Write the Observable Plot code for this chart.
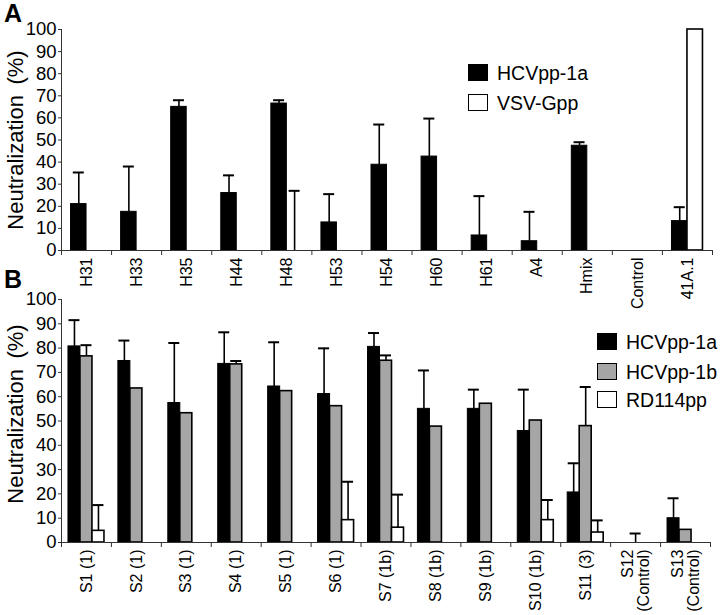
<!DOCTYPE html>
<html><head><meta charset="utf-8">
<script src="https://cdn.jsdelivr.net/npm/d3@7"></script>
<script src="https://cdn.jsdelivr.net/npm/@observablehq/plot@0.6"></script>
<style>
body{margin:0;background:#fff;font-family:"Liberation Sans",Arial,Helvetica,sans-serif;}
#wrap{position:relative;width:720px;height:615px;overflow:hidden;background:#fff;}
.plot{position:absolute;left:0;}
.letter{position:absolute;font-weight:bold;font-size:25px;line-height:25px;}
.legend{position:absolute;font-size:19.5px;}
.row{position:absolute;left:0;height:20px;white-space:nowrap;}
.sw{position:absolute;left:0;top:1px;width:18px;height:15px;border:1.5px solid #000;}
.lab{position:absolute;left:29px;top:0;line-height:20px;}
</style></head><body>
<div id="wrap"></div>
<script>
// ---------- Panel A data ----------
const catsA = ["H31","H33","H35","H44","H48","H53","H54","H60","H61","A4","Hmix","Control","41A.1"];
const hcv1aA   = [21, 17.5, 65, 26, 66.5, 12.7, 38.8, 42.5, 6.8, 4.2, 47.4, 0, 13.3];
const hcv1aSdA = [14.3, 20.5, 3, 8, 1.5, 12.8, 18.2, 17.2, 17.8, 13.3, 1.6, null, 6.3];
const vsvA     = [null, null, null, null, 0, null, null, null, null, null, null, null, 100];
const vsvSdA   = [null, null, null, null, 27, null, null, null, null, null, null, null, null];
const seriesNamesA = ["HCVpp-1a", "VSV-Gpp"];

// ---------- Panel B data ----------
const catsB = ["S1 (1)","S2 (1)","S3 (1)","S4 (1)","S5 (1)","S6 (1)","S7 (1b)","S8 (1b)","S9 (1b)","S10 (1b)","S11 (3)","S12 (Control)","S13 (Control)"];
const tickLabelsB = ["S1 (1)","S2 (1)","S3 (1)","S4 (1)","S5 (1)","S6 (1)","S7 (1b)","S8 (1b)","S9 (1b)","S10 (1b)","S11 (3)","S12\n(Control)","S13\n(Control)"];
const hcv1aB   = [80.7, 74.7, 57.4, 73.5, 64.2, 61.1, 80.5, 55, 55, 45.9, 20.6, 0, 10];
const hcv1aSdB = [10.8, 8.4, 24.7, 13, 18.2, 18.8, 5.7, 15.8, 7.9, 17, 12, null, 8.2];
const hcv1bB   = [76.6, 63.4, 53.2, 73.3, 62.3, 56.1, 74.8, 47.7, 57.1, 50.2, 47.9, 0, 5.2];
const hcv1bSdB = [4.6, null, null, 1.4, null, null, 2.2, null, null, null, 16.1, 3.7, null];
const rd114B   = [4.8, null, null, null, null, 9.2, 6.1, null, null, 9.2, 4.1, null, null];
const rd114SdB = [10.6, null, null, null, null, 15.8, 13.6, null, null, 8.3, 5, null, null];
const seriesNamesB = ["HCVpp-1a", "HCVpp-1b", "RD114pp"];

const yTicks = [0, 10, 20, 30, 40, 50, 60, 70, 80, 90, 100];
const yLabel = "Neutralization\u00a0\u2009(%)";

const FONT = '"Liberation Sans", Arial, Helvetica, sans-serif';
const BLACK = "#000", GRAY = "#a6a6a6", WHITE = "#fff";

function panel(o) {
  const n = o.cats.length;
  const bw = (o.width - o.ml - o.mr) / n;
  const gs = (bw - o.series.length * o.barW) / 2;
  const bars = [], errs = [];
  o.series.forEach((s, k) => {
    const rows = o.cats.map((c, i) => ({cat: c, v: s.values[i], sd: s.sd[i]})).filter(d => d.v != null);
    const left = gs + k * o.barW;
    const center = left + o.barW / 2;
    bars.push(Plot.barY(rows, {x: "cat", y: "v", fill: s.fill, stroke: BLACK, strokeWidth: s.sw,
      insetLeft: left, insetRight: bw - left - o.barW}));
    const e = rows.filter(d => d.sd != null && d.sd > 0);
    errs.push(Plot.ruleX(e, {x: "cat", y1: "v", y2: d => d.v + d.sd, dx: center - bw / 2, strokeWidth: 1.6}));
    errs.push(Plot.tickY(e, {x: "cat", y: d => d.v + d.sd, insetLeft: center - o.cap / 2,
      insetRight: bw - center - o.cap / 2, strokeWidth: 2}));
  });
  return Plot.plot({
    width: o.width, height: o.height,
    marginTop: o.mt, marginBottom: o.mb, marginLeft: o.ml, marginRight: o.mr,
    style: {background: "transparent", overflow: "visible", fontFamily: FONT, color: "#000"},
    x: {type: "band", domain: o.cats, padding: 0, round: false, axis: null},
    y: {domain: [0, 100], axis: null},
    marks: [
      ...bars,
      ...errs,
      Plot.ruleY([0], {stroke: "#333", strokeWidth: 1}),
      Plot.ruleX([o.cats[0]], {x: d => d, dx: -bw / 2, y1: 0, y2: 100, stroke: "#333", strokeWidth: 1}),
      // category boundary tick marks
      Plot.axisX({tickSize: 5, tickFormat: () => "", label: null, dx: -bw / 2, stroke: "#333"}),
      Plot.axisX([o.cats[n - 1]], {tickSize: 5, tickFormat: () => "", label: null, dx: bw / 2, stroke: "#333"}),
      // y tick marks
      Plot.axisY({ticks: yTicks, tickSize: 3, tickFormat: () => "", label: null, stroke: "#333"}),
      // tick labels
      Plot.text(o.cats, {x: d => d, y: 0, text: d => o.tickLabels[o.cats.indexOf(d)], rotate: -90,
        textAnchor: "end", lineAnchor: "middle", dy: 7, fontSize: 16}),
      Plot.text(yTicks, {y: d => d, text: d => String(d), frameAnchor: "left", textAnchor: "end",
        dx: -5, fontSize: 18.5}),
      Plot.text([yLabel], {frameAnchor: "left", textAnchor: "middle", dx: -46, dy: o.labelDy, rotate: -90, fontSize: 22})
    ]
  });
}

const wrap = document.getElementById("wrap");

const plotA = panel({
  cats: catsA, tickLabels: catsA, width: 720, height: 300, mt: 29, mb: 50, ml: 61, mr: 8,
  barW: 15.5, cap: 11, labelDy: 0,
  series: [
    {values: hcv1aA, sd: hcv1aSdA, fill: BLACK, sw: 1},
    {values: vsvA, sd: vsvSdA, fill: WHITE, sw: 1.6}
  ]
});
plotA.classList.add("plot");
plotA.style.top = "0px";
wrap.appendChild(plotA);

const plotB = panel({
  cats: catsB, tickLabels: tickLabelsB, width: 720, height: 330, mt: 14, mb: 73, ml: 61, mr: 10,
  barW: 12, cap: 11, labelDy: -7,
  series: [
    {values: hcv1aB, sd: hcv1aSdB, fill: BLACK, sw: 1},
    {values: hcv1bB, sd: hcv1bSdB, fill: GRAY, sw: 1.6},
    {values: rd114B, sd: rd114SdB, fill: WHITE, sw: 1.6}
  ]
});
plotB.classList.add("plot");
plotB.style.top = "285px";
wrap.appendChild(plotB);

function letter(t, left, top) {
  const d = document.createElement("div");
  d.className = "letter"; d.textContent = t;
  d.style.left = left + "px"; d.style.top = top + "px";
  wrap.appendChild(d);
}
letter("A", 4, 1);
letter("B", 4, 267);

function legend(names, fills, left, tops) {
  const lg = document.createElement("div");
  lg.className = "legend";
  lg.style.left = left + "px"; lg.style.top = "0px";
  names.forEach((nm, i) => {
    const r = document.createElement("div");
    r.className = "row"; r.style.top = tops[i] + "px";
    const sw = document.createElement("div");
    sw.className = "sw"; sw.style.background = fills[i];
    const lb = document.createElement("div");
    lb.className = "lab"; lb.textContent = nm;
    r.appendChild(sw); r.appendChild(lb);
    lg.appendChild(r);
  });
  wrap.appendChild(lg);
}
legend(seriesNamesA, [BLACK, WHITE], 468, [63, 93]);
legend(seriesNamesB, [BLACK, GRAY, WHITE], 597, [332, 361.5, 390]);
</script></body></html>
